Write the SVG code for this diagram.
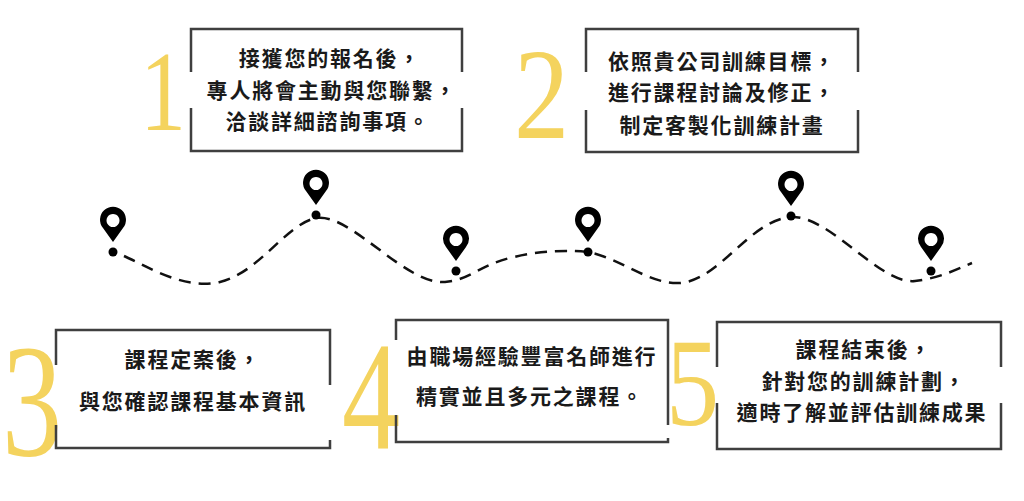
<svg xmlns="http://www.w3.org/2000/svg" width="1024" height="501" viewBox="0 0 1024 501">
<defs>
<style>
.b{fill:none;stroke:#3f3f3f;stroke-width:2.5}
.t{font-family:"Noto Sans CJK TC","Noto Sans CJK SC",sans-serif;font-weight:700;font-size:21px;letter-spacing:1.8px;fill:#1a1a1a;text-anchor:middle}
.n{font-family:"Liberation Serif",serif;fill:#f4d35e;font-weight:400}
.d{fill:none;stroke:#111;stroke-width:2.5;stroke-dasharray:12 8}
</style>
<g id="pin"><path d="M0,-10 L-10,-24 A13,13 0 1 1 10,-24 Z M0,-38 A6.5,6.5 0 1 0 0.01,-38 Z" fill="#000" fill-rule="evenodd"/><circle cx="0" cy="0" r="4.5" fill="#000"/></g>
</defs>
<rect width="1024" height="501" fill="#fff"/>
<g id="connectors">
<path class="d" d="M124,256 C150,268 185,290 220,282 C260,272 285,225 316,218 C350,212 405,285 445,282 C470,280 480,265 510,258 C540,250 570,250 588,252 C620,258 650,285 680,283 C720,280 750,220 791,217 C830,215 880,285 915,281 C940,278 955,270 972,263"/>
</g>
<g id="pins">
<use href="#pin" x="113" y="252"/>
<use href="#pin" x="316" y="215"/>
<use href="#pin" x="456" y="271"/>
<use href="#pin" x="588" y="252"/>
<use href="#pin" x="791" y="216"/>
<use href="#pin" x="931" y="271"/>
</g>
<g id="step1">
<text class="n" font-size="115" transform="translate(140,130) scale(0.8,1)">1</text>
<path class="b" d="M191,72 V29 H462 V72 M462,108 V151 H191 V108"/>
<text class="t" x="330" y="66">接獲您的報名後，</text>
<text class="t" x="332" y="98">專人將會主動與您聯繫，</text>
<text class="t" x="328" y="129">洽談詳細諮詢事項。</text>
</g>
<g id="step2">
<text class="n" font-size="130" transform="translate(514,138) scale(0.85,1)">2</text>
<path class="b" d="M586,72 V29 H858 V72 M858,110 V152 H586 V110"/>
<text class="t" x="722" y="69">依照貴公司訓練目標，</text>
<text class="t" x="722" y="100">進行課程討論及修正，</text>
<text class="t" x="722" y="133">制定客製化訓練計畫</text>
</g>
<g id="step3">
<text class="n" font-size="160" transform="translate(2,455) scale(0.75,1)">3</text>
<path class="b" d="M56,365 V330 H330 V385 M330,440 V448 H56 V425"/>
<text class="t" x="193" y="367">課程定案後，</text>
<text class="t" x="193" y="409">與您確認課程基本資訊</text>
</g>
<g id="step4">
<text class="n" font-size="155" transform="translate(342,448) scale(0.75,1)">4</text>
<path class="b" d="M396,340 V320 H668 V425 M668,438 V442 H396 V415"/>
<text class="t" x="532" y="364">由職場經驗豐富名師進行</text>
<text class="t" x="530" y="404">精實並且多元之課程。</text>
</g>
<g id="step5">
<text class="n" font-size="125" transform="translate(666,425) scale(0.85,1)">5</text>
<path class="b" d="M717,367 V322 H1001 V367 M1001,403 V449 H717 V403"/>
<text class="t" x="864" y="357">課程結束後，</text>
<text class="t" x="864" y="389">針對您的訓練計劃，</text>
<text class="t" x="862" y="420">適時了解並評估訓練成果</text>
</g>
</svg>
